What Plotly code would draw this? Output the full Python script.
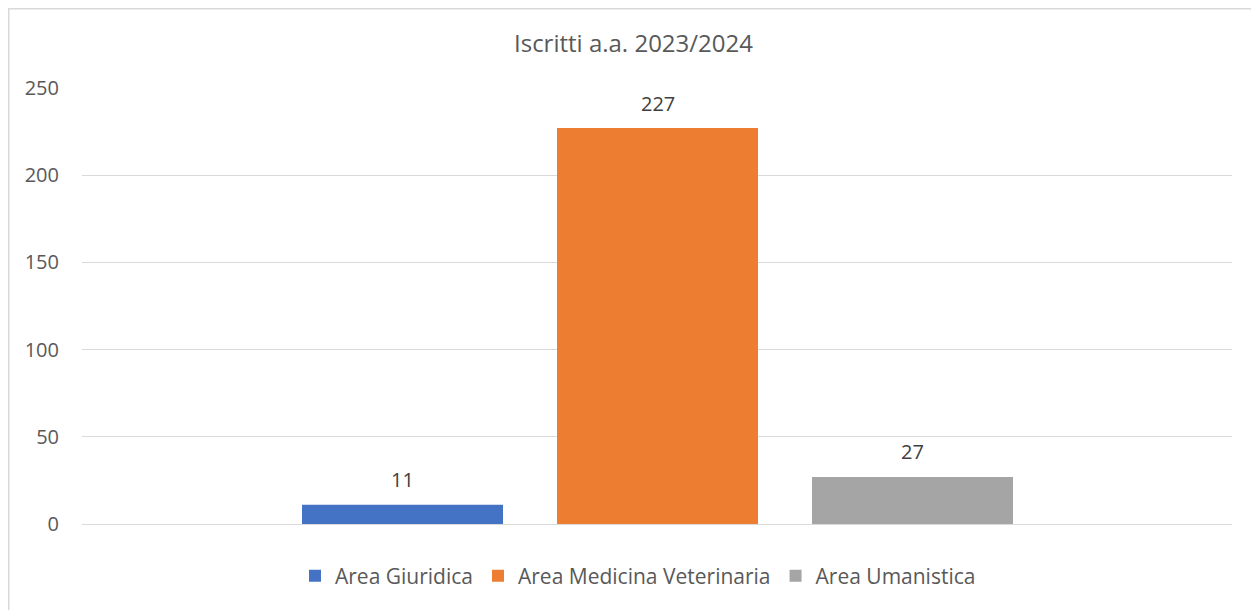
import plotly.graph_objects as go

series_names = ["Area Giuridica", "Area Medicina Veterinaria", "Area Umanistica"]
series_values = [11, 227, 27]
colors = ["#4472C4", "#ED7D31", "#A5A5A5"]
title_text = "Iscritti a.a. 2023/2024"
y_ticks = [0, 50, 100, 150, 200, 250]

# browser body adds an 8px margin, so the figure is sized to fit the window
W, H = 1251, 602
L, R, T, B = 74, 27, 80, 86
pw, ph = W - L - R, H - T - B
slot = 255.0  # pixel distance between bar centres
center_px = 649.5 - L

fig = go.Figure()
for name, val, c in zip(series_names, series_values, colors):
    fig.add_trace(go.Bar(
        x=[name], y=[val], name=name, marker_color=c, marker_line_width=0,
        hoverinfo="name+y",
    ))

annotations = [
    dict(x=name, y=val, xref="x", yref="y", text=str(val), showarrow=False,
         yanchor="middle", yshift=25, font=dict(size=20, color="#404040"))
    for name, val in zip(series_names, series_values)
]

left = 1 - center_px / slot
right = left + pw / slot

def px_x(p):
    return (p - L) / pw

def px_y(p):
    return (H - B - p) / ph

fig.update_layout(
    width=W, height=H,
    margin=dict(l=L, r=R, t=T, b=B, autoexpand=False),
    paper_bgcolor="white", plot_bgcolor="white",
    font=dict(family="Open Sans", color="#595959", size=20),
    title=dict(text=title_text, x=0.5, xanchor="center", y=1 - 36 / H, yanchor="middle",
               font=dict(size=24, color="#595959")),
    barmode="overlay", bargap=1 - 201 / slot,
    showlegend=True,
    legend=dict(orientation="h", x=px_x(630), xanchor="center", y=px_y(568), yanchor="middle",
                font=dict(size=21, color="#595959"), itemsizing="constant",
                traceorder="normal"),
    xaxis=dict(type="category", range=[left, right], showticklabels=False, showgrid=False,
               zeroline=False, showline=False, ticks=""),
    yaxis=dict(range=[0, 250], tickvals=y_ticks, showgrid=True, gridcolor="#D9D9D9", gridwidth=1,
               zeroline=True, zerolinecolor="#D9D9D9", zerolinewidth=1, showline=False,
               ticks="", ticklabelstandoff=22, tickfont=dict(size=20, color="#595959")),
    annotations=annotations,
    shapes=[dict(type="rect", xref="paper", yref="paper",
                 x0=px_x(0.75), x1=px_x(W + 20), y0=px_y(H + 20), y1=px_y(0.75),
                 line=dict(color="#D9D9D9", width=1.5), fillcolor="rgba(0,0,0,0)", layer="below")],
)

fig.write_html("out.html")
